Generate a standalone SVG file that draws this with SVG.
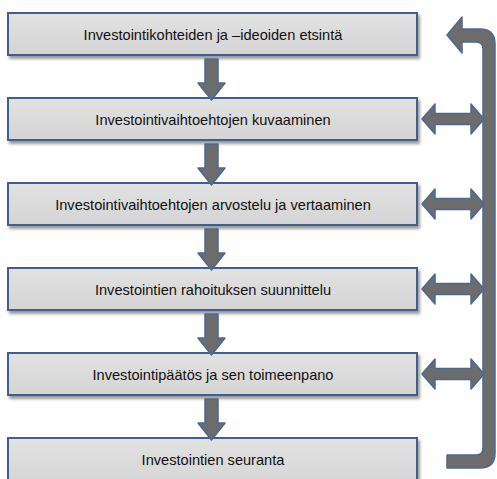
<svg xmlns="http://www.w3.org/2000/svg" width="497" height="479" viewBox="0 0 497 479">
  <defs>
    <filter id="shadow" x="-5%" y="-20%" width="115%" height="160%">
      <feDropShadow dx="2" dy="3" stdDeviation="1.8" flood-color="#555" flood-opacity="0.6"/>
    </filter>
    <linearGradient id="boxFill" x1="0" y1="0" x2="0" y2="1">
      <stop offset="0" stop-color="#e2e2e2"/>
      <stop offset="1" stop-color="#d4d4d4"/>
    </linearGradient>
    <path id="down" d="M205,0 L218,0 L218,24 L225,24 L211.5,41 L198,24 L205,24 Z"/>
    <path id="both" d="M422,0 L435,-15 L435,-5.5 L471,-5.5 L471,-15 L484,0 L471,15 L471,5.5 L435,5.5 L435,15 Z"/>
  </defs>
  <style>
    .box { fill: url(#boxFill); stroke: #3f5f8f; stroke-width: 2; filter: url(#shadow); }
    .label { font-family: "Liberation Sans", Arial, sans-serif; font-size: 14.6px; fill: #111111; text-anchor: middle; }
    .arrow { fill: #6c6c6c; stroke: #4a6896; stroke-width: 1.5; stroke-linejoin: round; }
  </style>
  <rect width="497" height="479" fill="#ffffff"/>

  <g id="step1"><rect class="box" x="8" y="13" width="409" height="42"/><text class="label" x="213" y="39.5">Investointikohteiden ja –ideoiden etsintä</text></g>
  <g id="step2"><rect class="box" x="8" y="98" width="409" height="42"/><text class="label" x="213" y="124.5">Investointivaihtoehtojen kuvaaminen</text></g>
  <g id="step3"><rect class="box" x="8" y="183" width="409" height="42"/><text class="label" x="213" y="209.5">Investointivaihtoehtojen arvostelu ja vertaaminen</text></g>
  <g id="step4"><rect class="box" x="8" y="268" width="409" height="42"/><text class="label" x="213" y="294.5">Investointien rahoituksen suunnittelu</text></g>
  <g id="step5"><rect class="box" x="8" y="353" width="409" height="42"/><text class="label" x="213" y="379.5">Investointipäätös ja sen toimeenpano</text></g>
  <g id="step6"><rect class="box" x="8" y="438" width="409" height="50"/><text class="label" x="213" y="464.5">Investointien seuranta</text></g>

  <g id="connectors">
    <use href="#down" class="arrow" y="59"/>
    <use href="#down" class="arrow" y="144"/>
    <use href="#down" class="arrow" y="229"/>
    <use href="#down" class="arrow" y="314"/>
    <use href="#down" class="arrow" y="399"/>
    <use href="#both" class="arrow" y="119"/>
    <use href="#both" class="arrow" y="204"/>
    <use href="#both" class="arrow" y="289"/>
    <use href="#both" class="arrow" y="374"/>
    <path class="arrow" d="M462,17 L447,35 L462,53 L462,42 L476,42 Q483,42 483,49 L483,448 Q483,455 476,455 L447,455 L447,468 L480,468 Q495,468 495,453 L495,44 Q495,29 480,29 L462,29 Z"/>
  </g>
</svg>
